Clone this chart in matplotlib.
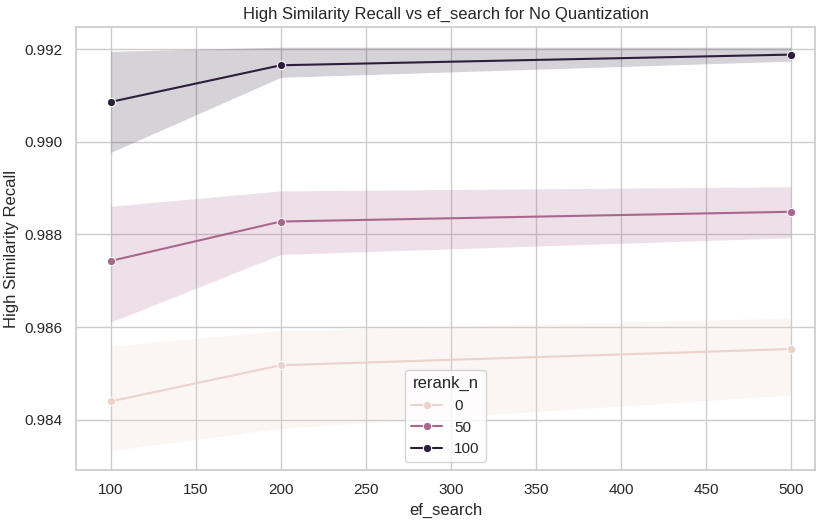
import matplotlib
matplotlib.use("Agg")
import matplotlib.pyplot as plt
import seaborn as sns
import numpy as np

sns.set_theme(style="whitegrid")
plt.rcParams['font.family'] = ['Liberation Sans', 'DejaVu Sans']

ef_search = [100, 200, 500]
rerank_n = [0, 50, 100]
mean = {0: [0.98440, 0.98518, 0.98553],
        50: [0.98743, 0.98828, 0.98849],
        100: [0.99086, 0.99165, 0.99188]}
lo = {0: [0.98334, 0.98382, 0.98454],
      50: [0.98611, 0.98757, 0.98793],
      100: [0.98977, 0.99139, 0.99174]}
hi = {0: [0.98559, 0.98593, 0.98620],
      50: [0.98861, 0.98894, 0.98903],
      100: [0.99195, 0.99204, 0.99204]}

cmap = sns.cubehelix_palette(as_cmap=True)
fig, ax = plt.subplots(figsize=(8.28, 5.24), dpi=100)
for r in rerank_n:
    c = cmap(r / max(rerank_n))
    ax.fill_between(ef_search, lo[r], hi[r], color=c, alpha=0.2, linewidth=0)
    ax.plot(ef_search, mean[r], color=c, marker="o", markersize=6, lw=1.5,
            markeredgecolor="white", markeredgewidth=0.75, label=str(r))
ax.set_xlim(79.7, 514)
ax.set_ylim(0.98292, 0.99247)
ax.set_yticks([0.984, 0.986, 0.988, 0.990, 0.992])
ax.set_xlabel("ef_search")
ax.set_ylabel("High Similarity Recall")
ax.set_title("High Similarity Recall vs ef_search for No Quantization")
ax.legend(title="rerank_n", loc="lower center")
fig.subplots_adjust(left=0.092, right=0.984, top=0.948, bottom=0.103)
fig.savefig("out.png")
